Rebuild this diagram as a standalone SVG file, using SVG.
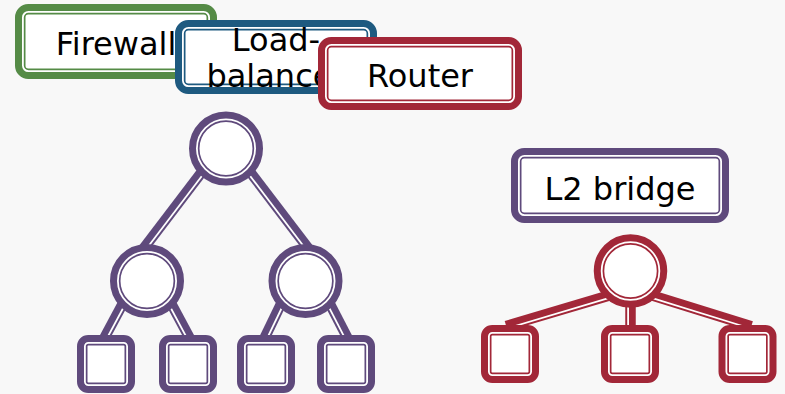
<svg xmlns="http://www.w3.org/2000/svg" width="785" height="394" viewBox="0 0 785 394">
  <style>
    .bg { fill: #f8f8f8; }
    .frame { fill: #ffffff; stroke-width: 10.5; }
    .gap { fill: none; stroke: #ffffff; stroke-width: 1.8; }
    .wire { stroke-width: 10.5; stroke-linecap: butt; fill: none; }
    .stripe { stroke: #ffffff; stroke-width: 1.8; stroke-linecap: butt; fill: none; }
    .green { stroke: #558b46; }
    .blue { stroke: #1e5a80; }
    .red { stroke: #a22738; }
    .purple { stroke: #5f4a7c; }
    .label { font-family: "DejaVu Sans", "Liberation Sans", sans-serif; font-size: 32px; fill: #000000; text-anchor: middle; }
  </style>

  <rect class="bg" x="0" y="0" width="785" height="394"/>

  <!-- Connectors: thick line with a white inner stripe -->
  <g id="connectors">
    <!-- purple tree, top level -->
    <line class="wire purple" x1="203.0" y1="170.5" x2="144.0" y2="248.0"/>
    <line class="stripe" x1="204.9" y1="172.0" x2="145.9" y2="249.5"/>
    <line class="wire purple" x1="249.0" y1="170.5" x2="308.0" y2="248.0"/>
    <line class="stripe" x1="247.1" y1="172.0" x2="306.1" y2="249.5"/>
    <!-- purple tree, lower level -->
    <line class="wire purple" x1="123.4" y1="302.6" x2="104.1" y2="338.5"/>
    <line class="stripe" x1="125.5" y1="303.7" x2="106.2" y2="339.6"/>
    <line class="wire purple" x1="170.6" y1="302.6" x2="189.9" y2="338.5"/>
    <line class="stripe" x1="168.5" y1="303.7" x2="187.8" y2="339.6"/>
    <line class="wire purple" x1="281.7" y1="302.5" x2="264.3" y2="338.6"/>
    <line class="stripe" x1="283.9" y1="303.5" x2="266.5" y2="339.6"/>
    <line class="wire purple" x1="329.2" y1="302.6" x2="347.8" y2="338.6"/>
    <line class="stripe" x1="327.1" y1="303.7" x2="345.7" y2="339.7"/>
    <!-- red tree -->
    <line class="wire red" x1="609.5" y1="295.4" x2="506.2" y2="326.1"/>
    <line class="stripe" x1="610.2" y1="297.7" x2="506.9" y2="328.4"/>
    <line class="wire red" x1="630.5" y1="302" x2="630.5" y2="329"/>
    <line class="stripe" x1="628.1" y1="302" x2="628.1" y2="329"/>
    <line class="wire red" x1="651.5" y1="295.3" x2="751.3" y2="326.2"/>
    <line class="stripe" x1="650.8" y1="297.6" x2="750.6" y2="328.5"/>
  </g>

  <!-- Purple tree nodes -->
  <g id="tree-root">
    <circle class="frame purple" cx="226" cy="148.5" r="31.75"/>
    <circle class="gap" cx="226" cy="148.5" r="29.1"/>
  </g>
  <g id="tree-left">
    <circle class="frame purple" cx="147" cy="281" r="31.75"/>
    <circle class="gap" cx="147" cy="281" r="29.1"/>
  </g>
  <g id="tree-right">
    <circle class="frame purple" cx="305.5" cy="281" r="31.75"/>
    <circle class="gap" cx="305.5" cy="281" r="29.1"/>
  </g>
  <g id="leaf-1">
    <rect class="frame purple" x="82.25" y="340.25" width="47.5" height="47.5" rx="6"/>
    <rect class="gap" x="84.9" y="342.9" width="42.2" height="42.2" rx="3.5"/>
  </g>
  <g id="leaf-2">
    <rect class="frame purple" x="164.25" y="340.25" width="47.5" height="47.5" rx="6"/>
    <rect class="gap" x="166.9" y="342.9" width="42.2" height="42.2" rx="3.5"/>
  </g>
  <g id="leaf-3">
    <rect class="frame purple" x="242.25" y="340.25" width="47.5" height="47.5" rx="6"/>
    <rect class="gap" x="244.9" y="342.9" width="42.2" height="42.2" rx="3.5"/>
  </g>
  <g id="leaf-4">
    <rect class="frame purple" x="322.25" y="340.25" width="47.5" height="47.5" rx="6"/>
    <rect class="gap" x="324.9" y="342.9" width="42.2" height="42.2" rx="3.5"/>
  </g>

  <!-- Red bridge nodes -->
  <g id="bridge-hub">
    <circle class="frame red" cx="630.5" cy="271" r="31.5"/>
    <circle class="gap" cx="630.5" cy="271" r="28.85"/>
  </g>
  <g id="port-1">
    <rect class="frame red" x="486.25" y="330.25" width="47.5" height="47.5" rx="6"/>
    <rect class="gap" x="488.9" y="332.9" width="42.2" height="42.2" rx="3.5"/>
  </g>
  <g id="port-2">
    <rect class="frame red" x="606.25" y="330.25" width="47.5" height="47.5" rx="6"/>
    <rect class="gap" x="608.9" y="332.9" width="42.2" height="42.2" rx="3.5"/>
  </g>
  <g id="port-3">
    <rect class="frame red" x="723.75" y="330.25" width="47.5" height="47.5" rx="6"/>
    <rect class="gap" x="726.4" y="332.9" width="42.2" height="42.2" rx="3.5"/>
  </g>

  <!-- Labelled boxes -->
  <g id="firewall">
    <rect class="frame green" x="20.25" y="9.25" width="191.5" height="64.5" rx="8"/>
    <rect class="gap" x="22.9" y="11.9" width="186.2" height="59.2" rx="5.5"/>
    <text class="label" x="116" y="55">Firewall</text>
  </g>
  <g id="load-balancer">
    <rect class="frame blue" x="180.25" y="25.25" width="191.5" height="63.5" rx="8"/>
    <rect class="gap" x="182.9" y="27.9" width="186.2" height="58.2" rx="5.5"/>
    <text class="label" x="276" y="51">Load-</text>
    <text class="label" x="276" y="87">balancer</text>
  </g>
  <g id="router">
    <rect class="frame red" x="323.25" y="42.25" width="193.5" height="62.5" rx="8"/>
    <rect class="gap" x="325.9" y="44.9" width="188.2" height="57.2" rx="5.5"/>
    <text class="label" x="420" y="87">Router</text>
  </g>
  <g id="l2-bridge">
    <rect class="frame purple" x="516.25" y="153.25" width="207.5" height="64.5" rx="8"/>
    <rect class="gap" x="518.9" y="155.9" width="202.2" height="59.2" rx="5.5"/>
    <text class="label" x="620" y="200">L2 bridge</text>
  </g>
</svg>
